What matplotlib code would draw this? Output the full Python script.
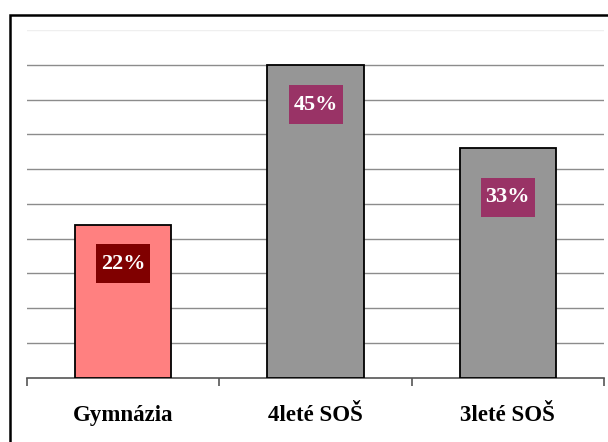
import matplotlib
matplotlib.use("Agg")
import matplotlib.pyplot as plt
from matplotlib.patches import Rectangle
from matplotlib import transforms

categories = ["Gymnázia", "4leté SOŠ", "3leté SOŠ"]
values = [22, 45, 33]
labels = ["22%", "45%", "33%"]

bar_colors = ["#FF8080", "#969696", "#969696"]
box_colors = ["#800000", "#993366", "#993366"]
label_offsets_px = [-39, -40, -49]

plt.rcParams['font.family'] = ['Liberation Serif', 'DejaVu Serif']

DPI = 100
fig = plt.figure(figsize=(6.08, 4.42), dpi=DPI)
ax = fig.add_axes([27/608, 1 - 377.5/442, 577/608, 347.5/442])

x = list(range(len(categories)))
ax.bar(x, values, width=0.5, color=bar_colors, edgecolor="black", linewidth=1.3, zorder=3)

ax.set_xlim(-0.5, 2.5)
ax.set_ylim(0, 50)
ax.set_yticks(range(0, 51, 5))
ax.tick_params(axis='y', length=0, labelleft=False)
ax.yaxis.grid(True, color="#8c8c8c", linewidth=1.0, zorder=0)
ax.set_axisbelow(True)
gls = ax.get_ygridlines()
gls[-1].set_color("#efefef")
gls[0].set_visible(False)

for s in ["top", "right", "left"]:
    ax.spines[s].set_visible(False)
ax.spines["bottom"].set_color("#555555")
ax.spines["bottom"].set_linewidth(1.2)

ax.set_xticks([-0.5, 0.5, 1.5, 2.5])
ax.set_xticklabels([])
ax.tick_params(axis='x', which='major', length=6, width=1.2, color="#555555", direction='out')
ax.set_xticks(x, minor=True)
ax.set_xticklabels(categories, minor=True, fontsize=16.5, fontweight='bold')
ax.tick_params(axis='x', which='minor', length=0, pad=20)

BOX_W, BOX_H = 54, 39
for xi, v, lab, bc, off in zip(x, values, labels, box_colors, label_offsets_px):
    anchor = transforms.ScaledTranslation(xi, v, ax.transData)
    tr = transforms.Affine2D().translate(0, off) + anchor
    ax.add_patch(Rectangle((-BOX_W/2, -BOX_H/2), BOX_W, BOX_H, transform=tr,
                           facecolor=bc, edgecolor='none', zorder=4))
    ax.annotate(lab, (xi, v), xytext=(0, off * 72 / DPI), textcoords='offset points',
                ha='center', va='center', fontsize=16, fontweight='bold', color='white',
                zorder=5)

frame = Rectangle((10/608, -0.2), 1.2, (442-15)/442 + 0.2, transform=fig.transFigure,
                  fill=False, edgecolor='black', linewidth=1.8)
fig.patches.append(frame)

fig.savefig("out.png", dpi=DPI)
